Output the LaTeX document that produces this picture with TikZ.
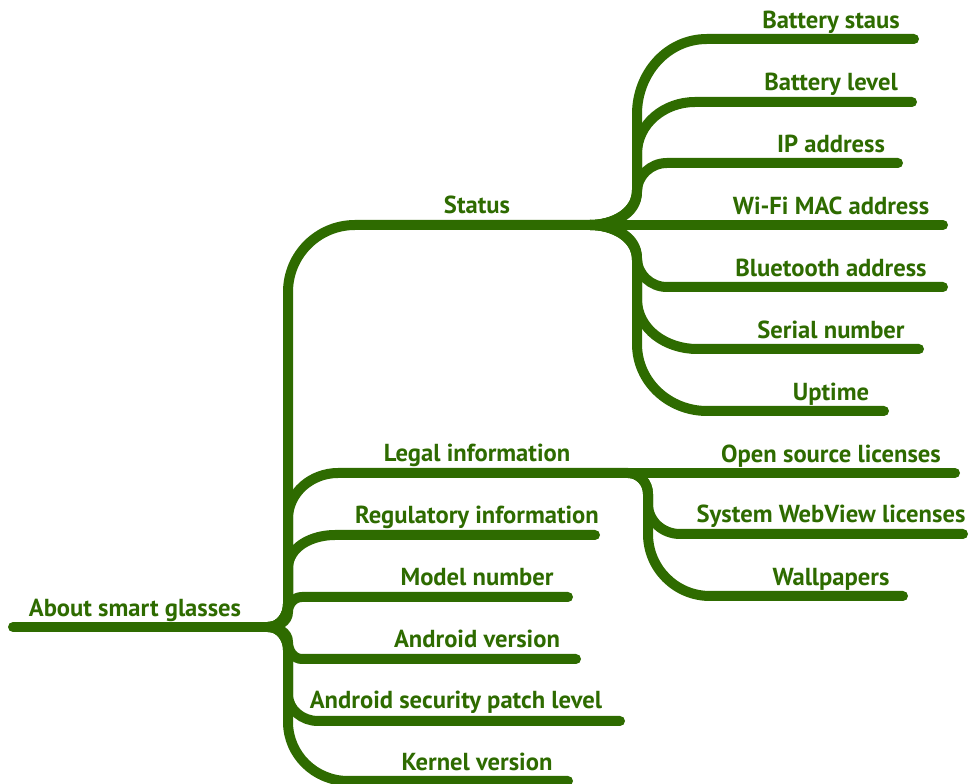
\documentclass[tikz,border=0pt]{standalone}
\usepackage{fontspec}
\setmainfont{PT Sans}
\definecolor{mmgreen}{RGB}{46,107,0}
\tikzset{
  br/.style={draw=mmgreen, line width=10pt, line cap=round, line join=round},
  lbl/.style={anchor=base, text=mmgreen, font=\bfseries\fontsize{24.6}{28}\selectfont, inner sep=0pt}
}
\begin{document}
\begin{tikzpicture}[x=1pt,y=1pt]
\useasboundingbox (0,0) rectangle (974,784);
% hubs
\coordinate (rootL) at (13,157);
\coordinate (rootH) at (268,157);
\coordinate (stH) at (590,559);
\coordinate (lgH) at (628,311);
% ends
\coordinate (stE1) at (914,745);
\coordinate (stE2) at (912,682);
\coordinate (stE3) at (898,621);
\coordinate (stE4) at (943,559);
\coordinate (stE5) at (943,497);
\coordinate (stE6) at (919,435);
\coordinate (stE7) at (884,373);
\coordinate (lgE1) at (955,311);
\coordinate (lgE2) at (963,250);
\coordinate (lgE3) at (903,188);
\coordinate (rgE) at (595,249);
\coordinate (mnE) at (568,187);
\coordinate (avE) at (576,125);
\coordinate (spE) at (620,63);
\coordinate (kvE) at (568,3);

% root
\draw[br] (rootL) -- (rootH);
% root branches
\draw[br] (rootH) to[out=0,in=-90] (288,180) -- (288,492) to[out=90,in=180] (355,559) -- (stH);
\draw[br] (rootH) to[out=0,in=-90] (288,180) -- (288,265) to[out=90,in=180] (338,311) -- (lgH);
\draw[br] (rootH) to[out=0,in=-90] (288,180) -- (288,215) to[out=90,in=180] (335,249) -- (rgE);
\draw[br] (rootH) to[out=0,in=-90] (288,172) to[out=90,in=180] (302,187) -- (mnE);
\draw[br] (rootH) to[out=0,in=90] (288,142) to[out=-90,in=180] (302,125) -- (avE);
\draw[br] (rootH) to[out=0,in=90] (288,134) -- (288,90) to[out=-90,in=180] (318,63) -- (spE);
\draw[br] (rootH) to[out=0,in=90] (288,134) -- (288,62) to[out=-90,in=180] (348,3) -- (kvE);
% status children
\draw[br] (stH) to[out=0,in=-90] (637,594) -- (637,670) to[out=90,in=180] (707,745) -- (stE1);
\draw[br] (stH) to[out=0,in=-90] (637,594) -- (637,630) to[out=90,in=180] (695,682) -- (stE2);
\draw[br] (stH) to[out=0,in=-90] (637,592) to[out=90,in=180] (667,621) -- (stE3);
\draw[br] (stH) -- (stE4);
\draw[br] (stH) to[out=0,in=90] (637,526) to[out=-90,in=180] (667,497) -- (stE5);
\draw[br] (stH) to[out=0,in=90] (637,524) -- (637,485) to[out=-90,in=180] (697,435) -- (stE6);
\draw[br] (stH) to[out=0,in=90] (637,524) -- (637,440) to[out=-90,in=180] (707,373) -- (stE7);
% legal children
\draw[br] (lgH) -- (lgE1);
\draw[br] (lgH) to[out=0,in=90] (648,290) -- (648,280) to[out=-90,in=180] (680,250) -- (lgE2);
\draw[br] (lgH) to[out=0,in=90] (648,290) -- (648,250) to[out=-90,in=180] (710,188) -- (lgE3);

% labels
\node[lbl] (root) at (135,167) {About smart glasses};
\node[lbl] (status) at (477,570) {Status};
\node[lbl] (legal) at (477,322) {Legal information};
\node[lbl] (reg) at (477,260) {Regulatory information};
\node[lbl] (model) at (477,198) {Model number};
\node[lbl] (andv) at (477,136) {Android version};
\node[lbl] (secp) at (456,75) {Android security patch level};
\node[lbl] (kern) at (477,13) {Kernel version};
\node[lbl] (bs) at (831,755) {Battery staus};
\node[lbl] (bl) at (831,693) {Battery level};
\node[lbl] (ip) at (831,631) {IP address};
\node[lbl] (wifi) at (831,569) {Wi-Fi MAC address};
\node[lbl] (bt) at (831,507) {Bluetooth address};
\node[lbl] (sn) at (831,445) {Serial number};
\node[lbl] (up) at (831,383) {Uptime};
\node[lbl] (osl) at (831,321) {Open source licenses};
\node[lbl] (swv) at (831,261) {System WebView licenses};
\node[lbl] (wp) at (831,198) {Wallpapers};
\end{tikzpicture}
\end{document}
